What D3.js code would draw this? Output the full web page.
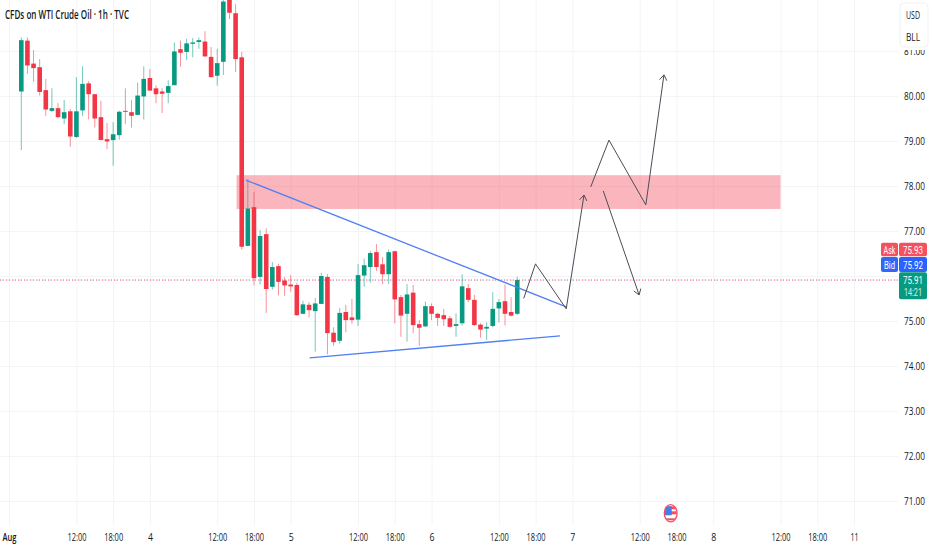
<!DOCTYPE html>
<html>
<head>
    <meta charset="utf-8">
    <title>CFDs on WTI Crude Oil</title>
    <script src="https://cdnjs.cloudflare.com/ajax/libs/d3/7.8.5/d3.min.js"></script>
    <style>
        html, body { margin: 0; padding: 0; background: #fff; }
        svg { display: block; }
        text { font-family: "Open Sans", Roboto, sans-serif; }
    </style>
</head>
<body>
<script>
    // hourly candles
    var opens = [80.10,81.23,80.72,80.64,80.13,79.67,79.73,79.50,79.66,79.09,79.68,80.28,80.04,79.53,79.04,79.02,79.13,79.67,79.64,79.58,79.99,80.40,80.17,80.10,80.07,80.24,81.04,80.98,81.16,81.20,81.21,80.87,80.45,80.76,82.20,81.84,80.86,76.67,77.53,75.98,76.93,75.76,76.22,75.90,75.81,75.80,75.16,75.36,75.22,75.38,75.98,74.74,74.56,75.20,75.08,75.03,76.01,76.20,76.53,76.26,76.04,76.55,75.53,75.16,75.63,74.93,74.88,75.33,75.16,75.13,75.06,74.89,74.95,75.73,75.47,74.92,74.83,74.89,75.28,75.44,75.20,75.16];
    var highs = [81.30,81.30,81.02,80.82,80.38,80.17,79.84,79.91,79.71,80.42,80.66,80.33,80.05,79.89,79.40,79.42,79.67,80.17,79.91,80.30,80.66,80.60,80.24,80.17,80.35,81.19,81.23,81.27,81.29,81.30,81.44,81.09,81.05,82.22,82.31,82.04,80.98,78.15,77.87,77.02,77.06,76.31,76.27,75.98,76.02,75.85,75.45,75.42,75.51,76.07,76.04,74.86,75.29,75.36,75.49,76.27,76.39,76.56,76.71,76.42,76.59,76.56,75.58,75.82,75.80,75.02,75.43,75.39,75.18,75.27,75.11,75.17,76.04,75.82,75.58,74.95,74.97,75.64,75.49,75.81,75.53,75.98];
    var lows = [78.80,80.49,80.32,80.01,79.56,79.64,79.51,79.38,78.87,79.07,79.56,79.48,79.30,79.02,78.82,78.45,79.03,79.38,79.30,79.58,79.48,80.12,79.84,79.62,79.84,80.24,80.65,80.80,80.86,81.05,80.87,80.41,80.23,80.47,81.71,80.53,76.59,76.67,75.79,75.81,75.18,75.70,75.57,75.56,75.65,75.11,75.15,75.08,74.32,75.38,74.26,74.45,74.50,74.75,74.94,74.89,75.76,75.85,76.11,75.82,75.82,74.95,74.65,74.54,74.73,74.45,74.87,75.02,74.89,74.89,74.85,74.65,74.90,75.42,74.89,74.63,74.58,74.86,74.97,74.90,75.10,75.13];
    var closes = [81.24,80.68,80.62,80.09,79.70,79.73,79.53,79.64,79.10,79.66,80.27,80.04,79.50,79.02,78.99,79.15,79.65,79.65,79.56,80.01,80.38,80.12,80.04,80.05,80.22,80.99,80.96,81.17,81.19,81.24,80.88,80.42,80.73,82.10,81.85,80.82,76.65,77.50,75.95,76.89,75.71,76.20,75.87,75.79,75.77,75.13,75.37,75.24,75.39,76.00,74.73,74.53,75.18,75.02,75.02,76.02,76.24,76.51,76.20,76.04,76.53,75.48,75.12,75.59,74.91,74.85,75.33,75.16,75.07,75.04,74.87,74.93,75.77,75.47,74.91,74.81,74.87,75.27,75.42,75.16,75.12,75.91];

    // time axis, positions are bar numbers
    var timeTicks = [-2,9,15,21,32,38,44,55,61,67,78,84,90,101,107,113,124,130,136];
    var timeLabels = ["Aug","12:00","18:00","4","12:00","18:00","5","12:00","18:00","6","12:00","18:00","7","12:00","18:00","8","12:00","18:00","11"];
    var boldLabels = ["Aug"];

    var priceTicks = [81,80,79,78,77,76,75,74,73,72,71];
    var hiddenPriceLabel = 76; // sits under the ask/bid tags

    var zone = {from: 35.15, to: 124, top: 78.24, bottom: 77.49};

    // drawings as [bar, price]
    var trendUpper = [[36.7,78.13],[89.1,75.31]];
    var trendLower = [[47.1,74.18],[88,74.67]];
    var pathA = [[82.05,75.5],[83.98,76.27],[89,75.27],[91.9,77.8]];
    var pathB = [[93.0,77.98],[95.98,79.02],[102.0,77.58],[104.96,80.47]];
    var pathC = [[95.05,77.89],[100.9,75.58]];

    var lastPrice = 75.91;
    var askPrice = "75.93", bidPrice = "75.92", lastLabel = "75.91", countdown = "14:21";

    var width = 932, height = 550;
    var green = "#089981", red = "#f23645", blue = "#2962ff";

    var x = d3.scaleLinear().domain([0, 136]).range([21.3, 854]);
    var y = d3.scaleLinear().domain([71, 80]).range([501, 96]);

    var svg = d3.select("body").append("svg").attr("width", width).attr("height", height);

    // grid + price labels
    var yAxis = d3.axisRight(y).tickValues(priceTicks).tickSize(0).tickPadding(904)
        .tickFormat(function (d) { return d === hiddenPriceLabel ? "" : d3.format(".2f")(d); });
    var gy = svg.append("g").call(yAxis);
    gy.select(".domain").remove();
    gy.selectAll("text").attr("font-size", 11.5).attr("fill", "#131722")
        .attr("textLength", 21).attr("lengthAdjust", "spacingAndGlyphs");
    gy.selectAll(".tick").append("line").attr("x1", 0).attr("x2", 898).attr("stroke", "#f3f4f6");

    // grid + time labels
    var xAxis = d3.axisBottom(x).tickValues(timeTicks).tickSize(0).tickPadding(0)
        .tickFormat(function (d, i) { return timeLabels[i]; });
    var gx = svg.append("g").attr("transform", "translate(0,541)").call(xAxis);
    gx.select(".domain").remove();
    gx.selectAll("text").attr("y", 0).attr("dy", 0).attr("font-size", 11.5).attr("fill", "#131722")
        .attr("font-weight", function (d, i) { return boldLabels.indexOf(timeLabels[i]) >= 0 ? 600 : 400; })
        .attr("textLength", function (d, i) {
            var n = timeLabels[i].length;
            return n > 3 ? 19 : n === 3 ? 14 : n === 2 ? 8 : 5;
        })
        .attr("lengthAdjust", "spacingAndGlyphs");
    gx.selectAll(".tick").append("line").attr("y1", -541).attr("y2", -16).attr("stroke", "#f3f4f6");

    // zone
    svg.append("rect")
        .attr("x", x(zone.from)).attr("width", x(zone.to) - x(zone.from))
        .attr("y", y(zone.top)).attr("height", y(zone.bottom) - y(zone.top))
        .attr("fill", "#f23645").attr("fill-opacity", 0.36);

    // candles
    var bars = svg.append("g").selectAll("g").data(d3.range(opens.length)).enter().append("g");
    function barColor(i) { return closes[i] > opens[i] ? green : red; }
    bars.append("line")
        .attr("x1", function (i) { return x(i); }).attr("x2", function (i) { return x(i); })
        .attr("y1", function (i) { return y(highs[i]); }).attr("y2", function (i) { return y(lows[i]); })
        .attr("stroke", barColor).attr("stroke-width", 1).attr("stroke-opacity", 0.55);
    bars.append("rect")
        .attr("x", function (i) { return x(i) - 2.3; }).attr("width", 4.6)
        .attr("y", function (i) { return y(Math.max(opens[i], closes[i])); })
        .attr("height", function (i) { return Math.max(1, Math.abs(y(opens[i]) - y(closes[i]))); })
        .attr("fill", barColor);

    // last price dotted lines
    svg.append("line").attr("x1", 0).attr("x2", 899).attr("y1", y(lastPrice)).attr("y2", y(lastPrice))
        .attr("stroke", red).attr("stroke-dasharray", "1 2").attr("stroke-opacity", 0.8);
    svg.append("line").attr("x1", 1.5).attr("x2", 899).attr("y1", y(lastPrice)).attr("y2", y(lastPrice))
        .attr("stroke", blue).attr("stroke-dasharray", "1 5").attr("stroke-opacity", 0.5);

    // drawings
    var line = d3.line().x(function (d) { return x(d[0]); }).y(function (d) { return y(d[1]); });
    [trendUpper, trendLower].forEach(function (p) {
        svg.append("path").attr("d", line(p)).attr("fill", "none").attr("stroke", "#4f7ff5").attr("stroke-width", 1.3);
    });
    [pathA, pathB, pathC].forEach(function (p) {
        svg.append("path").attr("d", line(p)).attr("fill", "none").attr("stroke", "#4a4d57").attr("stroke-width", 1);
        // open arrow head on the last leg
        var a = p[p.length - 2], b = p[p.length - 1];
        var tipX = x(b[0]), tipY = y(b[1]);
        var ang = Math.atan2(y(a[1]) - tipY, x(a[0]) - tipX);
        [-0.6, 0.6].forEach(function (o) {
            svg.append("line").attr("x1", tipX).attr("y1", tipY)
                .attr("x2", tipX + 6.5 * Math.cos(ang + o)).attr("y2", tipY + 6.5 * Math.sin(ang + o))
                .attr("stroke", "#4a4d57").attr("stroke-width", 1);
        });
    });

    // title
    svg.append("text").attr("x", 5).attr("y", 19).attr("font-size", 12.5).attr("font-weight", 600).attr("fill", "#131722")
        .attr("textLength", 124).attr("lengthAdjust", "spacingAndGlyphs")
        .text("CFDs on WTI Crude Oil · 1h · TVC");

    // currency / unit box, covers the top of the 81.00 label
    svg.append("rect").attr("x", 899).attr("y", 2).attr("width", 30).attr("height", 48).attr("fill", "#fff");
    svg.append("rect").attr("x", 900).attr("y", 3).attr("width", 28).attr("height", 44).attr("rx", 4)
        .attr("fill", "#fff").attr("stroke", "#f0f1f3");
    [["USD", 20], ["BLL", 42]].forEach(function (d) {
        svg.append("text").attr("x", 913).attr("y", d[1] - 1).attr("text-anchor", "middle").attr("font-size", 11)
            .attr("fill", "#131722").attr("textLength", 14).attr("lengthAdjust", "spacingAndGlyphs").text(d[0]);
    });

    // price tags
    function tag(x0, w, y0, h, color, txt, ty, len, fs) {
        svg.append("rect").attr("x", x0).attr("y", y0).attr("width", w).attr("height", h).attr("rx", 2).attr("fill", color);
        svg.append("text").attr("x", x0 + w / 2).attr("y", ty).attr("text-anchor", "middle").attr("font-size", fs)
            .style("font-family", "Roboto").attr("fill", "#fff")
            .attr("textLength", len).attr("lengthAdjust", "spacingAndGlyphs").text(txt);
    }
    tag(881, 17, 242.7, 13.6, "#f4505e", "Ask", 253.7, 12, 11.5);
    tag(899, 28, 242.7, 13.6, "#f4505e", askPrice, 253.7, 20, 11.5);
    tag(881, 17, 257, 15, "#2f67f6", "Bid", 268.7, 11, 11.5);
    tag(899, 28, 257, 15, blue, bidPrice, 268.7, 20, 11.5);
    tag(899, 28, 272.3, 27, green, lastLabel, 284, 20, 11);
    svg.append("text").attr("x", 913).attr("y", 296.2).attr("text-anchor", "middle").attr("font-size", 10)
        .style("font-family", "Roboto").attr("fill", "#d5efe9")
        .attr("textLength", 18).attr("lengthAdjust", "spacingAndGlyphs").text(countdown);

    // US event marker on the time axis
    var flag = svg.append("g").attr("transform", "translate(670.7,513.3)");
    flag.append("clipPath").attr("id", "flagClip").append("ellipse").attr("rx", 6).attr("ry", 8.2);
    flag.append("ellipse").attr("rx", 6.4).attr("ry", 8.6).attr("fill", "#fff").attr("stroke", "#f4505e").attr("stroke-width", 1.3);
    var fg = flag.append("g").attr("clip-path", "url(#flagClip)");
    fg.append("rect").attr("x", -7).attr("y", -7).attr("width", 14).attr("height", 3).attr("fill", "#f4505e");
    fg.append("rect").attr("x", -7).attr("y", -2).attr("width", 14).attr("height", 3).attr("fill", "#f4505e");
    fg.append("rect").attr("x", -7).attr("y", 5).attr("width", 14).attr("height", 2).attr("fill", "#f4505e");
    fg.append("rect").attr("x", -7).attr("y", -7).attr("width", 8).attr("height", 9).attr("fill", "#4a7de8");
</script>
</body>
</html>
